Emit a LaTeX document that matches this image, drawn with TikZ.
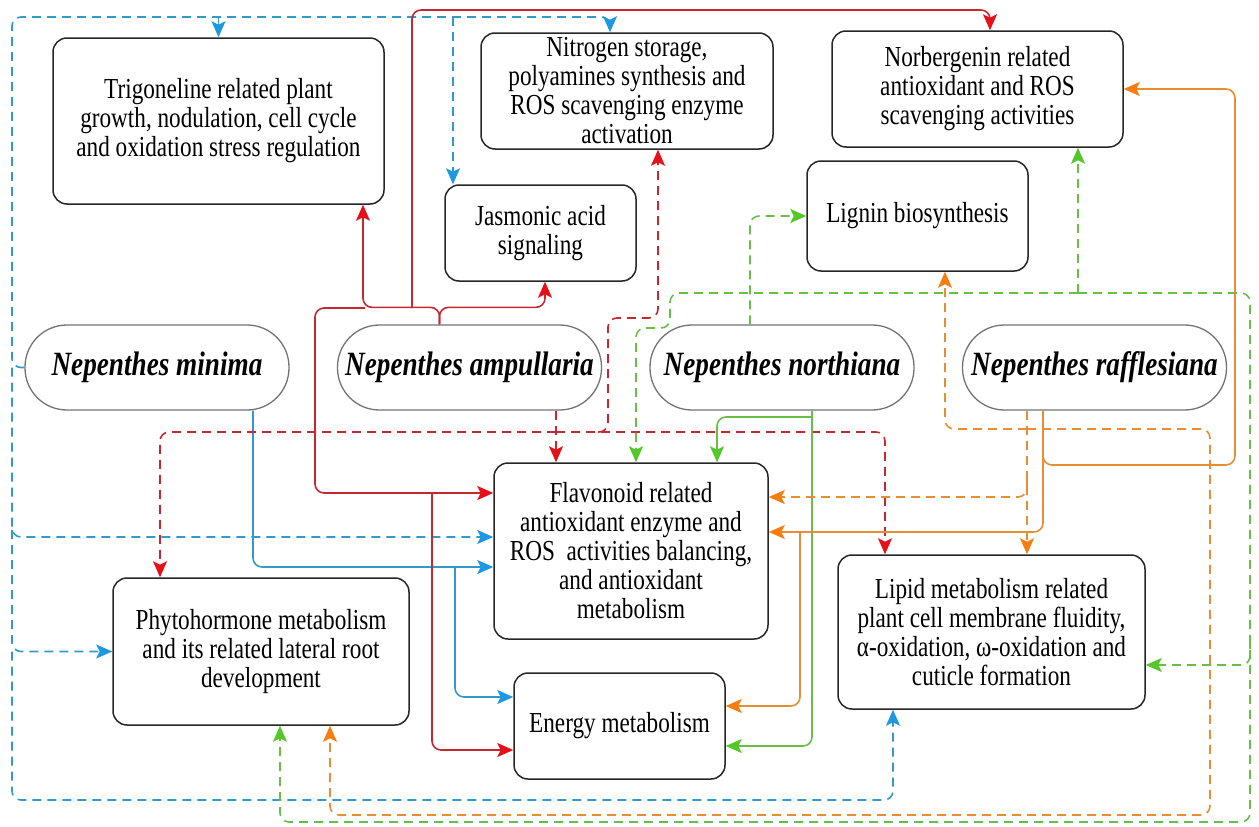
\documentclass[tikz,border=0pt]{standalone}
\usepackage{fontspec}
\setmainfont{Liberation Serif}[FakeStretch=0.8]
\usetikzlibrary{arrows.meta}

\definecolor{redline}{RGB}{196,40,48}
\definecolor{redtip}{RGB}{232,16,24}
\definecolor{blueline}{RGB}{52,152,200}
\definecolor{bluetip}{RGB}{30,152,226}
\definecolor{greenline}{RGB}{104,190,72}
\definecolor{greentip}{RGB}{84,200,40}
\definecolor{orangeline}{RGB}{230,142,52}
\definecolor{orangetip}{RGB}{246,126,16}

\tikzset{
  box/.style={draw=black!85, line width=1.5pt, rounded corners=14pt, align=center,
    inner sep=0pt, font=\fontsize{29}{29}\selectfont},
  species/.style={draw=black!55, line width=1.3pt, rounded corners=42pt,
    minimum width=264pt, minimum height=85pt, inner sep=0pt,
    font=\fontsize{34}{34}\selectfont\bfseries\itshape},
  link/.style={line width=1.6pt, rounded corners=9pt,
    -{Stealth[length=16pt,width=14pt,inset=3.5pt,color=#1]}},
  dashline/.style={dash pattern=on 9pt off 6pt},
  sred/.style={link=redtip, draw=redline},
  dred/.style={sred, dashline},
  sblue/.style={link=bluetip, draw=blueline},
  dblue/.style={sblue, dashline},
  sgreen/.style={link=greentip, draw=greenline},
  dgreen/.style={sgreen, dashline},
  sorange/.style={link=orangetip, draw=orangeline},
  dorange/.style={sorange, dashline},
}

\begin{document}
\begin{tikzpicture}[x=1pt, y=-1pt]
  \useasboundingbox (0,0) rectangle (1259,827);

  % target boxes
  \node[box, minimum width=331pt, minimum height=166pt] (trig) at (218.5,121)
    {Trigoneline related plant\\growth, nodulation, cell cycle\\and oxidation stress regulation};
  \node[box, minimum width=292pt, minimum height=116pt] (nitro) at (627,91)
    {Nitrogen storage,\\polyamines synthesis and\\ROS scavenging enzyme\\activation};
  \node[box, minimum width=291pt, minimum height=116pt] (norb) at (977.5,89)
    {Norbergenin related\\antioxidant and ROS\\scavenging activities};
  \node[box, minimum width=191pt, minimum height=96pt] (jasm) at (540.5,233)
    {Jasmonic acid\\signaling};
  \node[box, minimum width=221pt, minimum height=110pt] (lign) at (917.5,216)
    {Lignin biosynthesis};
  \node[box, minimum width=274pt, minimum height=176pt] (flav) at (631,551)
    {Flavonoid related\\antioxidant enzyme and\\ROS\ \ activities balancing,\\and antioxidant\\metabolism};
  \node[box, minimum width=296pt, minimum height=147pt] (phyto) at (261,651.5)
    {Phytohormone metabolism\\and its related lateral root\\development};
  \node[box, minimum width=211pt, minimum height=106pt] (energy) at (619.5,726)
    {Energy metabolism};
  \node[box, minimum width=307pt, minimum height=154pt] (lipid) at (991.5,632)
    {Lipid metabolism related\\plant cell membrane fluidity,\\α-oxidation, ω-oxidation and\\cuticle formation};

  % species
  \node[species] (mini) at (157,367.5) {Nepenthes minima};
  \node[species] (ampu) at (469.5,367.5) {Nepenthes ampullaria};
  \node[species] (nort) at (782,367.5) {Nepenthes northiana};
  \node[species] (raff) at (1094.5,367.5) {Nepenthes rafflesiana};

  % Nepenthes minima
  \draw[dblue] (mini.west) -| (12,17) -| ([xshift=-17pt]nitro.north);
  \draw[dblue, rounded corners=0pt] (trig.north |- 0,17) -- (trig.north);
  \draw[dblue, rounded corners=0pt] ([xshift=-87.5pt]jasm.north |- 0,17) -- ([xshift=-87.5pt]jasm.north);
  \draw[dblue] (12,367.5) |- ([yshift=14pt]flav.west);
  \draw[dblue] (12,530) |- (phyto.west);
  \draw[dblue] (12,651.5) |- (300,800) -| ([xshift=-98.5pt]lipid.south);
  \draw[sblue] ([xshift=96pt]mini.south) |- ([yshift=-16pt]flav.west);
  \draw[sblue] (455,567) |- ([yshift=29pt]energy.west);

  % Nepenthes ampullaria
  \draw[sred] ([xshift=-30pt]ampu.north) -- ++(0,-17) -| ([xshift=4.5pt]jasm.south);
  \draw[sred] ([xshift=-30pt]ampu.north) -- ++(0,-17) -| ([xshift=144.5pt]trig.south);
  \draw[sred] (412,308) -- (412,10) -| ([xshift=12.5pt]norb.north);
  \draw[sred] (365,308) -| (315,420) |- ([yshift=58pt]flav.west);
  \draw[sred] (432,493) |- ([yshift=-24pt]energy.west);
  \draw[dred] ([xshift=86.5pt]ampu.south) -- ([xshift=86.5pt]ampu.south |- flav.north);
  \draw[dred] (556,432) -| ([xshift=-101pt]phyto.north);
  \draw[dred] (556,432) -| ([xshift=-106.5pt]lipid.north);
  \draw[dred] (598,432) -| (608,318) -| ([xshift=31pt]nitro.south);

  % Nepenthes northiana
  \draw[sgreen] ([xshift=30pt]nort.south) |- ([yshift=-20pt]energy.east);
  \draw[sgreen] (812,417) -| ([xshift=86pt]flav.north);
  \draw[dgreen] ([xshift=-32pt]nort.north) |- (lign.west);
  \draw[dgreen] (1078,293) -| (670,328) -| ([xshift=5pt]flav.north);
  \draw[dgreen, rounded corners=0pt] ([xshift=100.5pt]norb.south |- 0,293) -- ([xshift=100.5pt]norb.south);
  \draw[dgreen] (1078,293) -| (1250,822) -| ([xshift=19pt]phyto.south);
  \draw[dgreen] (1250,640) |- ([yshift=-33pt]lipid.east);

  % Nepenthes rafflesiana
  \draw[sorange] ([xshift=-51.5pt]raff.south) |- (1235,465) |- (norb.east);
  \draw[sorange] ([xshift=-51.5pt]raff.south) |- ([yshift=19pt]flav.east);
  \draw[sorange] (800,532) |- ([yshift=20pt]energy.east);
  \draw[dorange] ([xshift=-67.5pt]raff.south) -- ([xshift=-67.5pt]raff.south |- lipid.north);
  \draw[dorange] (1027,429) -| ([xshift=27.5pt]lign.south);
  \draw[dorange] (1027,429) -| (1210,815) -| ([xshift=69pt]phyto.south);
  \draw[dorange] (1027,480) |- ([yshift=54pt]flav.east);
\end{tikzpicture}
\end{document}
